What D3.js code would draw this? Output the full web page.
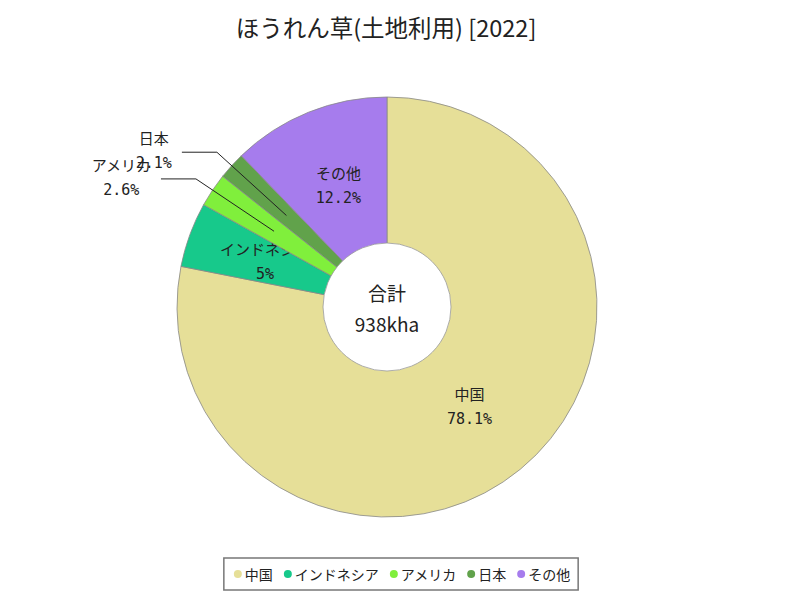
<!DOCTYPE html>
<html><head><meta charset="utf-8">
<script src="https://cdn.jsdelivr.net/npm/d3@7"></script>
<style>body{margin:0;background:#fff}svg{display:block}text{font-family:"Noto Sans CJK JP","Noto Sans",sans-serif}
.lbl{font-family:"DejaVu Sans Mono","Noto Sans CJK JP",monospace}</style>
</head><body>
<svg id="c" width="800" height="600"></svg>
<script>
const categories = ["中国","インドネシア","アメリカ","日本","その他"];
const percents = [78.1, 5, 2.6, 2.1, 12.2];
const colors = ["#e6df98","#17c98b","#80ef3c","#61a24b","#a67ced"];
const totalText = "938kha";
const titleText = "ほうれん草(土地利用) [2022]";
const outsideLabels = ["アメリカ","日本"];

const svg = d3.select("#c");
const cx = 387, cy = 307, R = 210, r0 = 64;

svg.append("text").attr("x", 386).attr("y", 27).attr("text-anchor","middle")
  .attr("dominant-baseline","central").attr("font-size", 23.5).attr("fill","#222").text(titleText);

const data = categories.map((c,i)=>({name:c, value:percents[i], color:colors[i]}));
const pie = d3.pie().value(d=>d.value).sort(null).startAngle(0).endAngle(2*Math.PI);
const arcs = pie(data);
const arc = d3.arc().innerRadius(0).outerRadius(R);
const g = svg.append("g").attr("transform",`translate(${cx},${cy})`);

const pt = (a, rr) => [Math.sin(a)*rr, -Math.cos(a)*rr];
const FS = 15;

arcs.forEach(a => {
  const sg = g.append("g");
  sg.append("path").attr("d", arc(a)).attr("fill", a.data.color)
    .attr("stroke","#888").attr("stroke-width",0.8);
  const mid = (a.startAngle + a.endAngle)/2;
  const pctTxt = (Math.round(a.data.value*10)/10) + "%";
  if (outsideLabels.includes(a.data.name)) return;
  const [x,y] = pt(mid, 130);
  sg.append("text").attr("class","lbl").attr("x",x).attr("y",y-12).attr("text-anchor","middle")
    .attr("dominant-baseline","central").attr("font-size",FS).attr("fill","#222").text(a.data.name);
  sg.append("text").attr("class","lbl").attr("x",x).attr("y",y+12).attr("text-anchor","middle")
    .attr("dominant-baseline","central").attr("font-size",FS).attr("fill","#222").text(pctTxt);
});

// outside labels
arcs.forEach(a => {
  if (!outsideLabels.includes(a.data.name)) return;
  const mid = (a.startAngle + a.endAngle)/2;
  const pctTxt = (Math.round(a.data.value*10)/10) + "%";
  const p1 = pt(mid, 136), p2 = pt(mid, 230);
  const p3 = [p2[0]-35, p2[1]];
  g.append("polyline").attr("points",[p1,p2,p3].map(p=>p.join(",")).join(" "))
    .attr("fill","none").attr("stroke","#222").attr("stroke-width",1);
  const t1 = g.append("text").attr("class","lbl").attr("font-size",FS).attr("fill","#222").attr("text-anchor","middle")
    .attr("dominant-baseline","central").text(a.data.name);
  const t2 = g.append("text").attr("class","lbl").attr("font-size",FS).attr("fill","#222").attr("text-anchor","middle")
    .attr("dominant-baseline","central").text(pctTxt);
  const w = Math.max(t1.node().getComputedTextLength(), t2.node().getComputedTextLength());
  const tx = p3[0] - 10 - w/2;
  t1.attr("x",tx).attr("y",p3[1]-13);
  t2.attr("x",tx).attr("y",p3[1]+11);
});

// hole
g.append("circle").attr("r", r0).attr("fill","#fff").attr("stroke","#999").attr("stroke-width",0.8);
g.append("text").attr("y",-15).attr("text-anchor","middle").attr("dominant-baseline","central")
  .attr("font-size",19).attr("fill","#222").text("合計");
g.append("text").attr("y",16).attr("text-anchor","middle").attr("dominant-baseline","central")
  .attr("font-size",19).attr("fill","#222").text(totalText);

// legend
const lg = svg.append("g");
const items = lg.selectAll("g").data(data).join("g");
items.append("circle").attr("r",4).attr("fill",d=>d.color);
items.append("text").attr("x",7).attr("dominant-baseline","central").attr("font-size",14)
  .attr("fill","#222").text(d=>d.name);
let xx = 0;
items.each(function(d){
  const w = d3.select(this).select("text").node().getComputedTextLength();
  d3.select(this).attr("transform",`translate(${xx},0)`);
  xx += 7 + w + 15;
});
const totalW = xx - 15;
const lx = 404 - totalW/2;
lg.attr("transform",`translate(${lx},574)`);
svg.insert("rect","g").attr("x",lx-14).attr("y",558).attr("width",totalW+22).attr("height",32)
  .attr("fill","#fff").attr("stroke","#777").attr("stroke-width",1.5);
</script>
</body></html>
